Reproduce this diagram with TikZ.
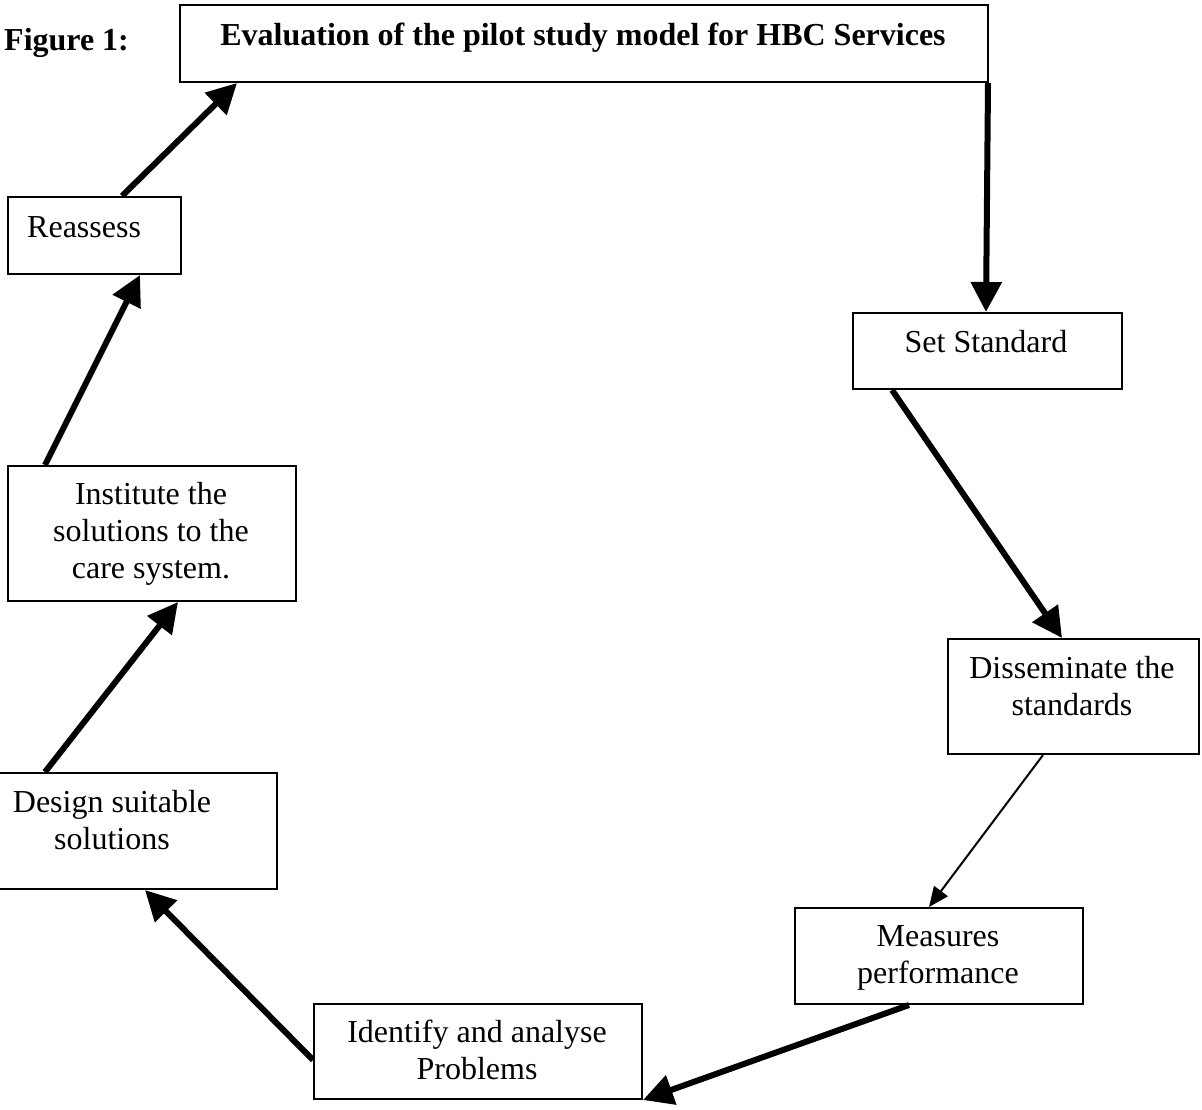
\documentclass[tikz,border=0pt]{standalone}
\usepackage{fontspec}
\setmainfont{Liberation Serif}
\usetikzlibrary{arrows.meta}
\begin{document}
\begin{tikzpicture}[x=1pt,y=-1pt,
  box/.style={draw, line width=2pt, inner sep=0pt, anchor=north west},
  txt/.style={font=\fontsize{32}{37}\selectfont, inner sep=0pt, anchor=base},
  bigarrow/.style={line width=6pt, -{Triangle[length=30pt,width=30pt]}},
  smallarrow/.style={line width=2pt, -{Triangle[length=20pt,width=17pt]}}]
\fill[white] (0,0) rectangle (1202,1109);
\useasboundingbox (0,0) rectangle (1202,1109);
% boxes
\node[box, minimum width=808pt, minimum height=77pt] (title) at (179,4) {};
\node[box, minimum width=269pt, minimum height=76pt] (ss) at (852,312) {};
\node[box, minimum width=251pt, minimum height=115pt] (dis) at (947,638) {};
\node[box, minimum width=288pt, minimum height=96pt] (meas) at (794,907) {};
\node[box, minimum width=328pt, minimum height=95pt] (ident) at (313,1003) {};
\node[box, minimum width=328pt, minimum height=116pt] (design) at (-52,772) {};
\node[box, minimum width=288pt, minimum height=135pt] (inst) at (7,465) {};
\node[box, minimum width=173pt, minimum height=77pt] (reass) at (7,196) {};
% texts
\node[txt, anchor=base west, font=\fontsize{32}{37}\selectfont\bfseries] (fig) at (4,50) {Figure 1:};
\node[txt, font=\fontsize{32}{37}\selectfont\bfseries] (ttitle) at (583,45) {Evaluation of the pilot study model for HBC Services};
\node[txt] (tss) at (986,352) {Set Standard};
\node[txt] (tdis) at (1072,678) {\begin{tabular}[t]{@{}c@{}}Disseminate the\\standards\end{tabular}};
\node[txt] (tmeas) at (938,946) {\begin{tabular}[t]{@{}c@{}}Measures\\performance\end{tabular}};
\node[txt] (tident) at (477,1042) {\begin{tabular}[t]{@{}c@{}}Identify and analyse\\Problems\end{tabular}};
\node[txt] (tdesign) at (112,812) {\begin{tabular}[t]{@{}c@{}}Design suitable\\solutions\end{tabular}};
\node[txt] (tinst) at (151,504) {\begin{tabular}[t]{@{}c@{}}Institute the\\solutions to the\\care system.\end{tabular}};
\node[txt, anchor=base west] (treass) at (27,237) {Reassess};
% connectors
\draw[bigarrow] ([xshift=-1pt]title.south east) -- ([xshift=134pt]ss.north west);
\draw[bigarrow] ([xshift=40pt]ss.south west) -- ([xshift=115pt]dis.north west);
\draw[smallarrow] ([xshift=96pt]dis.south west) -- ([xshift=135pt]meas.north west);
\draw[bigarrow] ([xshift=115pt]meas.south west) -- (ident.south east);
\draw[bigarrow] ([yshift=-57pt]ident.north west) -- ([xshift=197pt]design.south west);
\draw[bigarrow] ([xshift=97pt]design.north west) -- ([xshift=171pt]inst.south west);
\draw[bigarrow] ([xshift=38pt]inst.north west) -- ([xshift=133pt]reass.south west);
\draw[bigarrow] ([xshift=115pt]reass.north west) -- ([xshift=58pt]title.south west);
\end{tikzpicture}
\end{document}
